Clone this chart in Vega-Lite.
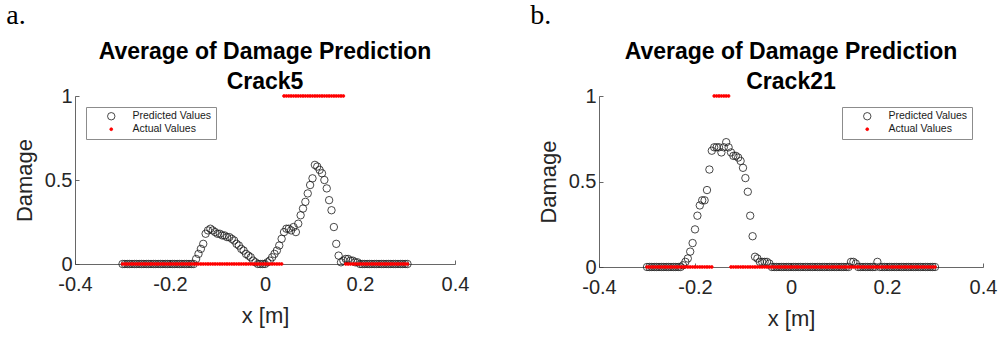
{
  "$schema": "https://vega.github.io/schema/vega-lite/v6.json",
  "background": "white",
  "padding": {"left": 6, "top": 2, "right": 2, "bottom": 2},
  "datasets": {
    "crack5": [
      {"x":-0.3,"p":0,"a":0},{"x":-0.295,"p":0,"a":0},{"x":-0.29,"p":0,"a":0},{"x":-0.285,"p":0,"a":0},{"x":-0.28,"p":0,"a":0},
      {"x":-0.275,"p":0,"a":0},{"x":-0.27,"p":0,"a":0},{"x":-0.265,"p":0,"a":0},{"x":-0.26,"p":0,"a":0},{"x":-0.255,"p":0,"a":0},
      {"x":-0.25,"p":0,"a":0},{"x":-0.245,"p":0,"a":0},{"x":-0.24,"p":0,"a":0},{"x":-0.235,"p":0,"a":0},{"x":-0.23,"p":0,"a":0},
      {"x":-0.225,"p":0,"a":0},{"x":-0.22,"p":0,"a":0},{"x":-0.215,"p":0,"a":0},{"x":-0.21,"p":0,"a":0},{"x":-0.205,"p":0,"a":0},
      {"x":-0.2,"p":0,"a":0},{"x":-0.195,"p":0,"a":0},{"x":-0.19,"p":0,"a":0},{"x":-0.185,"p":0,"a":0},{"x":-0.18,"p":0,"a":0},
      {"x":-0.175,"p":0,"a":0},{"x":-0.17,"p":0,"a":0},{"x":-0.165,"p":0,"a":0},{"x":-0.16,"p":0,"a":0},{"x":-0.155,"p":0,"a":0},
      {"x":-0.15,"p":0,"a":0},{"x":-0.145,"p":0.03,"a":0},{"x":-0.14,"p":0.06,"a":0},{"x":-0.135,"p":0.09,"a":0},{"x":-0.13,"p":0.12,"a":0},
      {"x":-0.125,"p":0.18,"a":0},{"x":-0.12,"p":0.2,"a":0},{"x":-0.115,"p":0.21,"a":0},{"x":-0.11,"p":0.2,"a":0},{"x":-0.105,"p":0.19,"a":0},
      {"x":-0.1,"p":0.18,"a":0},{"x":-0.095,"p":0.18,"a":0},{"x":-0.09,"p":0.17,"a":0},{"x":-0.085,"p":0.17,"a":0},{"x":-0.08,"p":0.16,"a":0},
      {"x":-0.075,"p":0.16,"a":0},{"x":-0.07,"p":0.15,"a":0},{"x":-0.065,"p":0.14,"a":0},{"x":-0.06,"p":0.12,"a":0},{"x":-0.055,"p":0.11,"a":0},
      {"x":-0.05,"p":0.09,"a":0},{"x":-0.045,"p":0.08,"a":0},{"x":-0.04,"p":0.06,"a":0},{"x":-0.035,"p":0.05,"a":0},{"x":-0.03,"p":0.04,"a":0},
      {"x":-0.025,"p":0.02,"a":0},{"x":-0.02,"p":0.01,"a":0},{"x":-0.015,"p":0,"a":0},{"x":-0.01,"p":0,"a":0},{"x":-0.005,"p":0,"a":0},
      {"x":0,"p":0,"a":0},{"x":0.005,"p":0.01,"a":0},{"x":0.01,"p":0.02,"a":0},{"x":0.015,"p":0.04,"a":0},{"x":0.02,"p":0.06,"a":0},
      {"x":0.025,"p":0.08,"a":0},{"x":0.03,"p":0.11,"a":0},{"x":0.035,"p":0.15,"a":0},{"x":0.04,"p":0.19,"a":1},{"x":0.045,"p":0.21,"a":1},
      {"x":0.05,"p":0.21,"a":1},{"x":0.055,"p":0.2,"a":1},{"x":0.06,"p":0.22,"a":1},{"x":0.065,"p":0.19,"a":1},{"x":0.07,"p":0.24,"a":1},
      {"x":0.075,"p":0.29,"a":1},{"x":0.08,"p":0.33,"a":1},{"x":0.085,"p":0.37,"a":1},{"x":0.09,"p":0.42,"a":1},{"x":0.095,"p":0.47,"a":1},
      {"x":0.1,"p":0.51,"a":1},{"x":0.105,"p":0.59,"a":1},{"x":0.11,"p":0.58,"a":1},{"x":0.115,"p":0.56,"a":1},{"x":0.12,"p":0.54,"a":1},
      {"x":0.125,"p":0.5,"a":1},{"x":0.13,"p":0.45,"a":1},{"x":0.135,"p":0.38,"a":1},{"x":0.14,"p":0.32,"a":1},{"x":0.145,"p":0.22,"a":1},
      {"x":0.15,"p":0.12,"a":1},{"x":0.155,"p":0.05,"a":1},{"x":0.16,"p":0.01,"a":1},{"x":0.165,"p":0.02,"a":1},{"x":0.17,"p":0.03,"a":0},
      {"x":0.175,"p":0.03,"a":0},{"x":0.18,"p":0.02,"a":0},{"x":0.185,"p":0.02,"a":0},{"x":0.19,"p":0.01,"a":0},{"x":0.195,"p":0.01,"a":0},
      {"x":0.2,"p":0,"a":0},{"x":0.205,"p":0,"a":0},{"x":0.21,"p":0,"a":0},{"x":0.215,"p":0,"a":0},{"x":0.22,"p":0,"a":0},
      {"x":0.225,"p":0,"a":0},{"x":0.23,"p":0,"a":0},{"x":0.235,"p":0,"a":0},{"x":0.24,"p":0,"a":0},{"x":0.245,"p":0,"a":0},
      {"x":0.25,"p":0,"a":0},{"x":0.255,"p":0,"a":0},{"x":0.26,"p":0,"a":0},{"x":0.265,"p":0,"a":0},{"x":0.27,"p":0,"a":0},
      {"x":0.275,"p":0,"a":0},{"x":0.28,"p":0,"a":0},{"x":0.285,"p":0,"a":0},{"x":0.29,"p":0,"a":0},{"x":0.295,"p":0,"a":0},
      {"x":0.3,"p":0,"a":0}
    ],
    "crack21": [
      {"x":-0.3,"p":0,"a":0},{"x":-0.295,"p":0,"a":0},{"x":-0.29,"p":0,"a":0},{"x":-0.285,"p":0,"a":0},{"x":-0.28,"p":0,"a":0},
      {"x":-0.275,"p":0,"a":0},{"x":-0.27,"p":0,"a":0},{"x":-0.265,"p":0,"a":0},{"x":-0.26,"p":0,"a":0},{"x":-0.255,"p":0,"a":0},
      {"x":-0.25,"p":0,"a":0},{"x":-0.245,"p":0,"a":0},{"x":-0.24,"p":0,"a":0},{"x":-0.235,"p":0,"a":0},{"x":-0.23,"p":0,"a":0},
      {"x":-0.225,"p":0.01,"a":0},{"x":-0.22,"p":0.03,"a":0},{"x":-0.215,"p":0.05,"a":0},{"x":-0.21,"p":0.09,"a":0},{"x":-0.205,"p":0.14,"a":0},
      {"x":-0.2,"p":0.22,"a":0},{"x":-0.195,"p":0.3,"a":0},{"x":-0.19,"p":0.36,"a":0},{"x":-0.185,"p":0.39,"a":0},{"x":-0.18,"p":0.39,"a":0},
      {"x":-0.175,"p":0.45,"a":0},{"x":-0.17,"p":0.57,"a":0},{"x":-0.165,"p":0.68,"a":0},{"x":-0.16,"p":0.7,"a":1},{"x":-0.155,"p":0.7,"a":1},
      {"x":-0.15,"p":0.7,"a":1},{"x":-0.145,"p":0.67,"a":1},{"x":-0.14,"p":0.7,"a":1},{"x":-0.135,"p":0.73,"a":1},{"x":-0.13,"p":0.7,"a":1},
      {"x":-0.125,"p":0.67,"a":0},{"x":-0.12,"p":0.65,"a":0},{"x":-0.115,"p":0.65,"a":0},{"x":-0.11,"p":0.64,"a":0},{"x":-0.105,"p":0.62,"a":0},
      {"x":-0.1,"p":0.58,"a":0},{"x":-0.095,"p":0.52,"a":0},{"x":-0.09,"p":0.44,"a":0},{"x":-0.085,"p":0.3,"a":0},{"x":-0.08,"p":0.18,"a":0},
      {"x":-0.075,"p":0.06,"a":0},{"x":-0.07,"p":0.05,"a":0},{"x":-0.065,"p":0.03,"a":0},{"x":-0.06,"p":0.03,"a":0},{"x":-0.055,"p":0.03,"a":0},
      {"x":-0.05,"p":0.03,"a":0},{"x":-0.045,"p":0.02,"a":0},{"x":-0.04,"p":0,"a":0},{"x":-0.035,"p":0,"a":0},{"x":-0.03,"p":0,"a":0},
      {"x":-0.025,"p":0,"a":0},{"x":-0.02,"p":0,"a":0},{"x":-0.015,"p":0,"a":0},{"x":-0.01,"p":0,"a":0},{"x":-0.005,"p":0,"a":0},
      {"x":0,"p":0,"a":0},{"x":0.005,"p":0,"a":0},{"x":0.01,"p":0,"a":0},{"x":0.015,"p":0,"a":0},{"x":0.02,"p":0,"a":0},
      {"x":0.025,"p":0,"a":0},{"x":0.03,"p":0,"a":0},{"x":0.035,"p":0,"a":0},{"x":0.04,"p":0,"a":0},{"x":0.045,"p":0,"a":0},
      {"x":0.05,"p":0,"a":0},{"x":0.055,"p":0,"a":0},{"x":0.06,"p":0,"a":0},{"x":0.065,"p":0,"a":0},{"x":0.07,"p":0,"a":0},
      {"x":0.075,"p":0,"a":0},{"x":0.08,"p":0,"a":0},{"x":0.085,"p":0,"a":0},{"x":0.09,"p":0,"a":0},{"x":0.095,"p":0,"a":0},
      {"x":0.1,"p":0,"a":0},{"x":0.105,"p":0,"a":0},{"x":0.11,"p":0,"a":0},{"x":0.115,"p":0,"a":0},{"x":0.12,"p":0,"a":0},
      {"x":0.125,"p":0.03,"a":0},{"x":0.13,"p":0.03,"a":0},{"x":0.135,"p":0.02,"a":0},{"x":0.14,"p":0,"a":0},{"x":0.145,"p":0,"a":0},
      {"x":0.15,"p":0,"a":0},{"x":0.155,"p":0,"a":0},{"x":0.16,"p":0,"a":0},{"x":0.165,"p":0,"a":0},{"x":0.17,"p":0,"a":0},
      {"x":0.175,"p":0,"a":0},{"x":0.18,"p":0.03,"a":0},{"x":0.185,"p":0,"a":0},{"x":0.19,"p":0,"a":0},{"x":0.195,"p":0,"a":0},
      {"x":0.2,"p":0,"a":0},{"x":0.205,"p":0,"a":0},{"x":0.21,"p":0,"a":0},{"x":0.215,"p":0,"a":0},{"x":0.22,"p":0,"a":0},
      {"x":0.225,"p":0,"a":0},{"x":0.23,"p":0,"a":0},{"x":0.235,"p":0,"a":0},{"x":0.24,"p":0,"a":0},{"x":0.245,"p":0,"a":0},
      {"x":0.25,"p":0,"a":0},{"x":0.255,"p":0,"a":0},{"x":0.26,"p":0,"a":0},{"x":0.265,"p":0,"a":0},{"x":0.27,"p":0,"a":0},
      {"x":0.275,"p":0,"a":0},{"x":0.28,"p":0,"a":0},{"x":0.285,"p":0,"a":0},{"x":0.29,"p":0,"a":0},{"x":0.295,"p":0,"a":0},
      {"x":0.3,"p":0,"a":0}
    ]
  },
  "config": {
    "view": {"stroke": null},
    "font": "Liberation Sans",
    "concat": {"spacing": 61},
    "axis": {
      "grid": false,
      "labelFlush": false,
      "domainColor": "#404040", "domainWidth": 0.8,
      "tickColor": "#404040", "tickWidth": 0.8, "tickSize": -4,
      "labelColor": "#262626", "titleColor": "#262626",
      "labelFont": "Liberation Sans", "titleFont": "Liberation Sans",
      "labelFontSize": 20, "titleFontSize": 22, "titleFontWeight": "normal"
    },
    "axisX": {"labelPadding": 14, "titlePadding": 11},
    "axisY": {"labelPadding": 7, "titlePadding": 8},
    "legend": {
      "title": null,
      "labelFont": "Liberation Sans", "labelFontSize": 10.5, "labelColor": "#1a1a1a",
      "strokeColor": "#8c8c8c", "fillColor": "white",
      "padding": 4, "offset": 11, "rowPadding": 2,
      "symbolOffset": 16, "labelOffset": 16, "symbolStrokeWidth": 0.8
    },
    "title": {"font": "Liberation Sans", "color": "black"}
  },
  "hconcat": [
    {
      "title": {"text": "a.", "anchor": "start", "font": "Liberation Serif", "fontSize": 28, "fontWeight": "normal", "dx": -7, "offset": 11},
      "resolve": {"legend": {"fill": "independent", "stroke": "independent", "size": "independent"}},
      "vconcat": [
        {
          "data": {"name": "crack5"},
          "transform": [{"fold": ["p", "a"], "as": ["series", "value"]}],
          "title": {"text": ["Average of Damage Prediction", "Crack5"], "fontSize": 23, "fontWeight": "bold", "lineHeight": 30, "offset": -8, "anchor": "middle", "frame": "group"},
          "width": 380, "height": 168,
          "mark": {"type": "point", "shape": "circle", "strokeWidth": 0.8, "opacity": 1},
          "encoding": {
            "x": {"field": "x", "type": "quantitative", "scale": {"domain": [-0.4, 0.4], "nice": false, "zero": false},
                  "axis": {"values": [-0.4, -0.2, 0, 0.2, 0.4], "title": "x [m]", "labelExpr": "(datum.value < 0 ? '-' : '') + format(abs(datum.value), '~g')"}},
            "y": {"field": "value", "type": "quantitative", "scale": {"domain": [0, 1], "nice": false},
                  "axis": {"values": [0, 0.5, 1], "format": "~g", "title": "Damage"}},
            "fill": {"field": "series", "type": "nominal", "scale": {"domain": ["p", "a"], "range": ["transparent", "red"]}, "legend": {"orient": "top-left", "labelExpr": "datum.label == 'p' ? 'Predicted Values' : 'Actual Values'"}},
            "stroke": {"field": "series", "type": "nominal", "scale": {"domain": ["p", "a"], "range": ["#1a1a1a", "red"]}, "legend": {"orient": "top-left", "labelExpr": "datum.label == 'p' ? 'Predicted Values' : 'Actual Values'"}},
            "size": {"field": "series", "type": "nominal", "scale": {"domain": ["p", "a"], "range": [55, 8]}, "legend": {"orient": "top-left", "labelExpr": "datum.label == 'p' ? 'Predicted Values' : 'Actual Values'"}},
            "order": {"field": "series", "sort": "descending"}
          }
        }
      ]
    },
    {
      "title": {"text": "b.", "anchor": "start", "font": "Liberation Serif", "fontSize": 28, "fontWeight": "normal", "dx": -7, "offset": 11},
      "resolve": {"legend": {"fill": "independent", "stroke": "independent", "size": "independent"}},
      "vconcat": [
        {
          "data": {"name": "crack21"},
          "transform": [{"fold": ["p", "a"], "as": ["series", "value"]}],
          "title": {"text": ["Average of Damage Prediction", "Crack21"], "fontSize": 23, "fontWeight": "bold", "lineHeight": 30, "offset": -8, "anchor": "middle", "frame": "group"},
          "width": 384, "height": 171,
          "mark": {"type": "point", "shape": "circle", "strokeWidth": 0.8, "opacity": 1},
          "encoding": {
            "x": {"field": "x", "type": "quantitative", "scale": {"domain": [-0.4, 0.4], "nice": false, "zero": false},
                  "axis": {"values": [-0.4, -0.2, 0, 0.2, 0.4], "title": "x [m]", "labelExpr": "(datum.value < 0 ? '-' : '') + format(abs(datum.value), '~g')"}},
            "y": {"field": "value", "type": "quantitative", "scale": {"domain": [0, 1], "nice": false},
                  "axis": {"values": [0, 0.5, 1], "format": "~g", "title": "Damage"}},
            "fill": {"field": "series", "type": "nominal", "scale": {"domain": ["p", "a"], "range": ["transparent", "red"]}, "legend": {"orient": "top-right", "labelExpr": "datum.label == 'p' ? 'Predicted Values' : 'Actual Values'"}},
            "stroke": {"field": "series", "type": "nominal", "scale": {"domain": ["p", "a"], "range": ["#1a1a1a", "red"]}, "legend": {"orient": "top-right", "labelExpr": "datum.label == 'p' ? 'Predicted Values' : 'Actual Values'"}},
            "size": {"field": "series", "type": "nominal", "scale": {"domain": ["p", "a"], "range": [55, 8]}, "legend": {"orient": "top-right", "labelExpr": "datum.label == 'p' ? 'Predicted Values' : 'Actual Values'"}},
            "order": {"field": "series", "sort": "descending"}
          }
        }
      ]
    }
  ],
  "resolve": {"scale": {"fill": "independent", "stroke": "independent", "size": "independent"}}
}
